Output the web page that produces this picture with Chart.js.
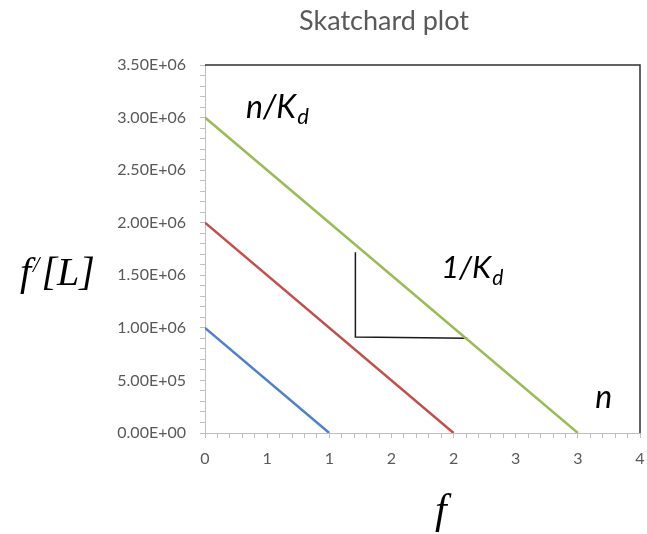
<!DOCTYPE html>
<html>
<head>
<meta charset="utf-8">
<script src="https://cdn.jsdelivr.net/npm/chart.js@4"></script>
<style>
  body { margin: 0; background: #fff; }
  #wrap { width: 647px; height: 534px; }
</style>
</head>
<body>
<div id="wrap"><canvas id="graphic" width="647" height="534"></canvas></div>
<script>
// Scatchard lines: f values and f/[L] values
const blueF = [0, 1]
const blueY = [1.0e6, 0]
const redF = [0, 2]
const redY = [2.0e6, 0]
const greenF = [0, 3]
const greenY = [3.0e6, 0]
// slope triangle drawn under the green line
const triF = [1.21, 1.21, 2.11]
const triY = [1.72e6, 0.913e6, 0.9e6]

const xMin = 0, xMax = 3.5, xStep = 0.1
const yMin = 0, yMax = 3.5e6, yStep = 1e5

const chartTitle = "Skatchard plot"
const graphic = document.querySelector("#graphic")

let toPoints = (xs, ys) => xs.map((x, i) => ({ x: x, y: ys[i] }))

let sciLabel = (v) => {
  let [m, e] = v.toExponential(2).split("e")
  let sign = e[0] === "-" ? "-" : "+"
  let digits = e.replace(/[+-]/, "").padStart(2, "0")
  return `${m}E${sign}${digits}`
}

let drawSub = (ctx, main, sub, x, y, size) => {
  ctx.font = `italic ${size}px Lato`
  ctx.fillText(main, x, y)
  let w = ctx.measureText(main).width
  ctx.font = `italic ${Math.round(size * 0.68)}px Lato`
  ctx.fillText(sub, x + w + 1, y + size * 0.2)
}

const decorations = {
  id: "decorations",
  afterDraw(chart) {
    const ctx = chart.ctx
    const area = chart.chartArea
    const xs = chart.scales.x
    const ys = chart.scales.y
    ctx.save()

    // top and right frame
    ctx.strokeStyle = "#303030"
    ctx.lineWidth = 1.5
    ctx.beginPath()
    ctx.moveTo(area.left, area.top)
    ctx.lineTo(area.right, area.top)
    ctx.lineTo(area.right, area.bottom)
    ctx.stroke()

    // title
    ctx.fillStyle = "#595959"
    ctx.textAlign = "center"
    ctx.textBaseline = "alphabetic"
    ctx.font = "27px Lato"
    ctx.fillText(chartTitle, 384, 30)

    // annotations
    ctx.fillStyle = "#000"
    ctx.textAlign = "left"
    drawSub(ctx, "n/K", "d", xs.getPixelForValue(0.33), ys.getPixelForValue(3.0e6), 32)
    drawSub(ctx, "1/K", "d", xs.getPixelForValue(1.9), ys.getPixelForValue(1.47e6), 31)
    ctx.font = "italic 32px Lato"
    ctx.fillText("n", xs.getPixelForValue(3.14), ys.getPixelForValue(0.24e6))

    // axis titles
    ctx.font = "italic 40px 'Liberation Serif'"
    ctx.fillText("f", 20, 285)
    let fw = ctx.measureText("f").width
    ctx.font = "italic 23px 'Liberation Serif'"
    ctx.fillText("/", 20 + fw + 2, 272)
    let sw = ctx.measureText("/").width
    ctx.font = "italic 40px 'Liberation Serif'"
    ctx.fillText("[L]", 20 + fw + sw + 4, 285)

    ctx.font = "italic 42px 'Liberation Serif'"
    ctx.fillText("f", 435, 523)
    ctx.restore()
  }
}

const lineSet = (label, xs, ys, color, width) => ({
  label: label,
  data: toPoints(xs, ys),
  showLine: true,
  borderColor: color,
  backgroundColor: color,
  borderWidth: width,
  pointRadius: 0,
  tension: 0,
})

new Chart(graphic, {
  type: "scatter",
  data: {
    datasets: [
      lineSet("n = 1", blueF, blueY, "#4f81c7", 2.5),
      lineSet("n = 2", redF, redY, "#c0504d", 2.5),
      lineSet("n = 3", greenF, greenY, "#9bbb59", 2.5),
      lineSet("slope", triF, triY, "#1a1a1a", 1.5),
    ],
  },
  options: {
    responsive: false,
    animation: false,
    layout: { padding: { top: 65, right: 7, bottom: 0, left: 0 } },
    plugins: {
      legend: { display: false },
      title: { display: false },
      tooltip: { enabled: false },
    },
    scales: {
      x: {
        type: "linear",
        min: xMin,
        max: xMax,
        afterFit: (scale) => {
          scale.height = 101
          scale.paddingLeft = 0
          scale.paddingRight = 0
        },
        border: { color: "#bfbfbf", width: 1 },
        grid: { drawOnChartArea: false, drawTicks: true, tickLength: 5, color: "#bfbfbf" },
        ticks: {
          stepSize: xStep,
          maxTicksLimit: 100,
          autoSkip: false,
          maxRotation: 0,
          padding: 11,
          color: "#595959",
          font: { family: "Lato", size: 16 },
          callback: (v) => Math.abs(v * 2 - Math.round(v * 2)) < 1e-6 ? String(Math.round(v)) : "",
        },
      },
      y: {
        type: "linear",
        min: yMin,
        max: yMax,
        afterFit: (scale) => {
          scale.width = 205
          scale.paddingTop = 0
          scale.paddingBottom = 0
        },
        border: { color: "#bfbfbf", width: 1 },
        grid: { drawOnChartArea: false, drawTicks: true, tickLength: 5, color: "#bfbfbf" },
        ticks: {
          stepSize: yStep,
          maxTicksLimit: 100,
          autoSkip: false,
          padding: 14,
          color: "#595959",
          font: { family: "Lato", size: 16 },
          callback: (v) => Math.abs(v / 5e5 - Math.round(v / 5e5)) < 1e-6 ? sciLabel(v) : "",
        },
      },
    },
  },
  plugins: [decorations],
})
</script>
</body>
</html>
